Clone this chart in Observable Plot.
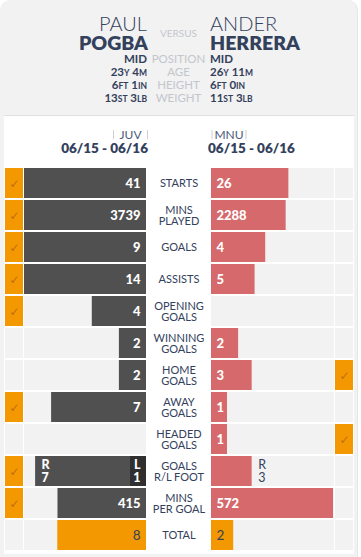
<!DOCTYPE html>
<html>
<head>
<meta charset="utf-8">
<script src="https://cdn.jsdelivr.net/npm/d3@7"></script>
<script src="https://cdn.jsdelivr.net/npm/@observablehq/plot@0.6"></script>
<style>
  html, body { margin: 0; padding: 0; background: #ffffff; }
  body { font-family: Lato, "Open Sans", sans-serif; }
  #wrap { position: relative; width: 361px; height: 557px; overflow: hidden; }
  #panel { position: absolute; left: 0; top: 0; width: 357px; height: 557px; background: #f2f2f2; border-radius: 10px 10px 0 0; border-right: 1px solid #e6e6e6; }
  #card { position: absolute; left: 4px; top: 115px; width: 350px; height: 438px; background: #fff; border-top: 1px solid #e0e0e0; }
  #head { position: absolute; left: 0; top: 0; }
  #rows { position: absolute; left: 5px; top: 167px; display: flex; flex-direction: row; }
  #rows svg { display: block; }
</style>
</head>
<body>
<div id="wrap">
  <div id="panel"></div>
  <div id="card"></div>
  <svg id="head" width="361" height="167" font-family="Lato, 'Open Sans', sans-serif"></svg>
  <div id="rows"></div>
</div>
<script>
// ---------- data ----------
const players = ["PAUL", "POGBA", "ANDER", "HERRERA"];
const infoLabels = ["POSITION", "AGE", "HEIGHT", "WEIGHT"];
const pogbaInfo = [["MID"], ["23","Y"," 4","M"], ["6","FT"," 1","IN"], ["13","ST"," 3","LB"]];
const herreraInfo = [["MID"], ["26","Y"," 11","M"], ["6","FT"," 0","IN"], ["11","ST"," 3","LB"]];
const teams = ["JUV", "MNU"];
const seasons = ["06/15 - 06/16", "06/15 - 06/16"];

const stats = ["STARTS", "MINS\nPLAYED", "GOALS", "ASSISTS", "OPENING\nGOALS", "WINNING\nGOALS",
  "HOME\nGOALS", "AWAY\nGOALS", "HEADED\nGOALS", "GOALS\nR/L FOOT", "MINS\nPER GOAL", "TOTAL"];
const pogba   = [41, 3739, 9, 14, 4, 2, 2, 7, 0, 8, 415, 8];
const herrera = [26, 2288, 4, 5, 0, 2, 3, 1, 1, 3, 572, 2];
const rowMax  = [41, 3739, 9, 14, 9, 9, 9, 9, 9, 9, 572, 11];
const pogbaWins   = [1, 1, 1, 1, 1, 0, 0, 1, 0, 1, 1, 0];
const herreraWins = [0, 0, 0, 0, 0, 0, 1, 0, 1, 0, 0, 0];
const pogbaFoot = { R: 7, L: 1 };
const herreraFoot = { R: 3, L: 0 };

// ---------- styles ----------
const navy = "#33415c";
const dark = "#505050";
const darker = "#2f2f2f";
const red = "#d5696c";
const orange = "#f39800";
const bg = "#f2f2f2";
const tick = "#b9661a";
const font = "Lato, 'Open Sans', sans-serif";

// ---------- header ----------
const head = d3.select("#head");
function t(x, y, txt, size, weight, fill, anchor) {
  return head.append("text").attr("x", x).attr("y", y).attr("font-size", size)
    .attr("font-weight", weight).attr("fill", fill).attr("text-anchor", anchor).text(txt);
}
t(147, 31, players[0], 20, 300, navy, "end");
t(148, 50, players[1], 19.5, 800, navy, "end");
t(210, 31, players[2], 20, 300, navy, "start");
t(210, 50, players[3], 19.5, 800, navy, "start");
t(178.5, 37, "VERSUS", 10, 400, "#c4c7cd", "middle");
const base = [62.5, 75.5, 88.5, 101.5];
function info(x, y, parts, anchor) {
  const el = head.append("text").attr("x", x).attr("y", y).attr("text-anchor", anchor)
    .attr("fill", navy).attr("font-weight", 700);
  parts.forEach((p, i) => {
    el.append("tspan").attr("font-size", i % 2 === 0 ? 11.5 : 8.5).text(p);
  });
}
infoLabels.forEach((lab, i) => {
  info(147, base[i], pogbaInfo[i], "end");
  info(210, base[i], herreraInfo[i], "start");
  t(178.5, base[i], lab, 11.5, 400, "#c3c6cd", "middle");
});
// team headers
function team(cx, name) {
  t(cx, 139, name, 12, 400, "#4b5a7a", "middle");
  const w = 34;
  [cx - w / 2, cx + w / 2].forEach(x =>
    head.append("line").attr("x1", x).attr("x2", x).attr("y1", 130).attr("y2", 139)
      .attr("stroke", "#cfcfd4").attr("stroke-width", 1));
}
team(130.5, teams[0]);
team(229, teams[1]);
t(148, 153, seasons[0], 13.5, 800, navy, "end");
t(208, 153, seasons[1], 13.5, 800, navy, "start");

// ---------- rows ----------
const rows = stats.map((s, i) => ({
  stat: s, i, p: pogba[i], h: herrera[i], max: rowMax[i],
  pw: pogbaWins[i], hw: herreraWins[i]
}));
const minFrac = 16 / 122;
const frac = (v, m) => v <= 0 ? 0 : Math.max(v / m, minFrac);
const rlIndex = stats.indexOf("GOALS\nR/L FOOT");
const totIndex = stats.indexOf("TOTAL");

const H = 384;
const yScale = { domain: stats, paddingInner: 0.0625, paddingOuter: 0.03125, axis: null, round: false };
const common = (w, x) => ({
  width: w, height: H, margin: 0, marginTop: 0, marginBottom: 0, marginLeft: 0, marginRight: 0,
  x: Object.assign({ axis: null }, x), y: yScale,
  style: { background: "transparent", fontFamily: font, overflow: "visible" }
});

function checkPlot(winKey) {
  return Plot.plot({
    ...common(18, { domain: [0, 1] }),
    marks: [
      Plot.barX(rows, { x1: 0, x2: 1, y: "stat", fill: d => d[winKey] ? orange : bg }),
      Plot.text(rows.filter(d => d[winKey]), { x: 0.5, y: "stat", text: () => "✓", fill: tick,
        fontSize: 12, fontWeight: "bold", fontFamily: "DejaVu Sans", fillOpacity: 0.9, dy: 1 })
    ]
  });
}

function spacer(w) {
  const d = document.createElement("div");
  d.style.width = w + "px";
  return d;
}

const normal = rows.filter(d => d.i !== rlIndex);
const inner = normal.filter(d => d.i !== totIndex);
const total = normal.filter(d => d.i === totIndex);

// left bars
const pRL = rows[rlIndex];
const lfL = frac(pogbaFoot.L, pRL.max), lfR = frac(pogbaFoot.R, pRL.max);
const leftPlot = Plot.plot({
  ...common(122, { domain: [0, 1], range: [122, 0] }),
  marks: [
    Plot.barX(rows, { x1: 0, x2: 1, y: "stat", fill: bg }),
    Plot.barX(inner.filter(d => d.p > 0), { x1: 0, x2: d => frac(d.p, d.max), y: "stat", fill: dark }),
    Plot.barX(total.filter(d => d.p > 0), { x1: 0, x2: d => frac(d.p, d.max), y: "stat", fill: orange }),
    Plot.barX([pRL], { x1: 0, x2: lfL, y: "stat", fill: darker }),
    Plot.barX([pRL], { x1: lfL, x2: lfL + lfR, y: "stat", fill: dark }),
    Plot.text(inner.filter(d => d.p > 0), { x: 0, y: "stat", text: d => String(d.p), textAnchor: "end", dx: -6,
      fill: "white", fontWeight: 900, fontSize: 13 }),
    Plot.text(total.filter(d => d.p > 0), { x: 0, y: "stat", text: d => String(d.p), textAnchor: "end", dx: -6,
      fill: navy, fontSize: 13.5 }),
    Plot.text([pRL], { x: 0, y: "stat", text: () => "L\n" + pogbaFoot.L, textAnchor: "end", dx: -6,
      fill: "white", fontWeight: 900, fontSize: 12.5, lineHeight: 1.05 }),
    Plot.text([pRL], { x: lfL + lfR, y: "stat", text: () => "R\n" + pogbaFoot.R, textAnchor: "start", dx: 6,
      fill: "white", fontWeight: 900, fontSize: 12.5, lineHeight: 1.05 })
  ]
});

// center labels
const centerPlot = Plot.plot({
  ...common(65, { domain: [0, 1] }),
  marks: [
    Plot.text(stats, { y: d => d, text: d => d, frameAnchor: "middle", fill: navy, fontSize: 11, lineHeight: 1.0 })
  ]
});

// right bars
const hRL = rows[rlIndex];
const rfR = frac(herreraFoot.R, hRL.max);
const rightPlot = Plot.plot({
  ...common(123, { domain: [0, 123 / 122], range: [0, 123] }),
  marks: [
    Plot.barX(rows, { x1: 0, x2: 123 / 122, y: "stat", fill: bg }),
    Plot.barX(inner.filter(d => d.h > 0), { x1: 0, x2: d => frac(d.h, d.max), y: "stat", fill: red }),
    Plot.barX(total.filter(d => d.h > 0), { x1: 0, x2: d => frac(d.h, d.max), y: "stat", fill: orange }),
    Plot.barX([hRL], { x1: 0, x2: rfR, y: "stat", fill: red }),
    Plot.text(inner.filter(d => d.h > 0), { x: 0, y: "stat", text: d => String(d.h), textAnchor: "start", dx: 5,
      fill: "white", fontWeight: 900, fontSize: 13 }),
    Plot.text(total.filter(d => d.h > 0), { x: 0, y: "stat", text: d => String(d.h), textAnchor: "start", dx: 5,
      fill: navy, fontSize: 13.5 }),
    Plot.text([hRL], { x: rfR, y: "stat", text: () => "R\n" + herreraFoot.R, textAnchor: "start", dx: 6,
      fill: navy, fontSize: 12.5, lineHeight: 1.05 })
  ]
});

const rowsDiv = document.getElementById("rows");
rowsDiv.append(checkPlot("pw"), spacer(1), leftPlot, centerPlot, rightPlot, spacer(1), checkPlot("hw"));
</script>
</body>
</html>
